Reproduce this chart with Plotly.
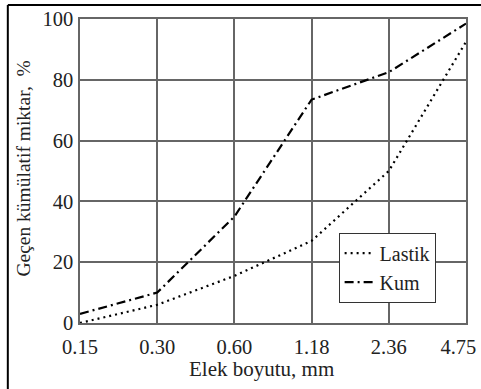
import plotly.graph_objects as go

categories = ["0.15", "0.30", "0.60", "1.18", "2.36", "4.75"]
lastik = [0, 6, 15.5, 27, 50, 92.5]
kum = [3, 10, 35, 73.5, 82.5, 98.5]
y_ticks = [0, 20, 40, 60, 80, 100]

font_family = "Liberation Serif"

# last label nudged left (as in the reference) with invisible trailing spaces
tick_text = categories[:-1] + [categories[-1] + "\u00a0\u00a0\u00a0"]

fig = go.Figure()
fig.add_trace(go.Scatter(x=list(range(len(categories))), y=lastik, mode="lines", name="Lastik",
                         line=dict(color="black", width=2.2, dash="2px,4px")))
fig.add_trace(go.Scatter(x=list(range(len(categories))), y=kum, mode="lines", name="Kum",
                         line=dict(color="black", width=2.2, dash="9px,4px,2px,4px")))

fig.update_layout(
    width=481, height=389,
    margin=dict(l=80, r=15, t=19, b=66),
    paper_bgcolor="white", plot_bgcolor="white",
    font=dict(family=font_family, size=20, color="#222"),
    showlegend=True,
    legend=dict(x=0.67, y=0.297, xanchor="left", yanchor="top",
                bgcolor="white", bordercolor="#333", borderwidth=1,
                font=dict(family=font_family, size=20), tracegroupgap=0, itemwidth=30),
    shapes=[
        dict(type="line", xref="paper", yref="paper", x0=-0.187, x1=1.1, y0=1.046, y1=1.046,
             line=dict(color="black", width=2)),
        dict(type="line", xref="paper", yref="paper", x0=-0.187, x1=-0.187, y0=1.046, y1=-0.25,
             line=dict(color="black", width=2)),
    ],
    annotations=[
        dict(text="Elek boyutu, mm", xref="paper", yref="paper", x=0.469, y=-0.151,
             xanchor="center", yanchor="middle", showarrow=False,
             font=dict(family=font_family, size=21, color="#222")),
        dict(text="Geçen kümülatif miktar,  %", xref="paper", yref="paper", x=-0.145, y=0.508,
             xanchor="center", yanchor="middle", textangle=-90, showarrow=False,
             font=dict(family=font_family, size=19.5, color="#222")),
    ],
)
fig.update_xaxes(range=[0, 5], tickmode="array", tickvals=list(range(len(categories))),
                 ticktext=tick_text, showgrid=True, gridcolor="#666", gridwidth=1.5,
                 showline=True, linecolor="#666", linewidth=1.5, mirror=True, zeroline=False,
                 ticks="outside", ticklen=5, tickcolor="rgba(0,0,0,0)", automargin=False,
                 ticklabeloverflow="allow",
                 tickfont=dict(family=font_family, size=20.5))
fig.update_yaxes(range=[0, 100], tickmode="array", tickvals=y_ticks,
                 showgrid=True, gridcolor="#666", gridwidth=1.5,
                 showline=True, linecolor="#666", linewidth=1.5, mirror=True, zeroline=False,
                 ticks="outside", ticklen=1, tickcolor="rgba(0,0,0,0)", automargin=False,
                 ticklabeloverflow="allow",
                 tickfont=dict(family=font_family, size=20.5))

fig.write_html("out.html", config={"displayModeBar": False},
               post_script="document.body.style.margin='0';document.body.style.overflow='hidden';")
